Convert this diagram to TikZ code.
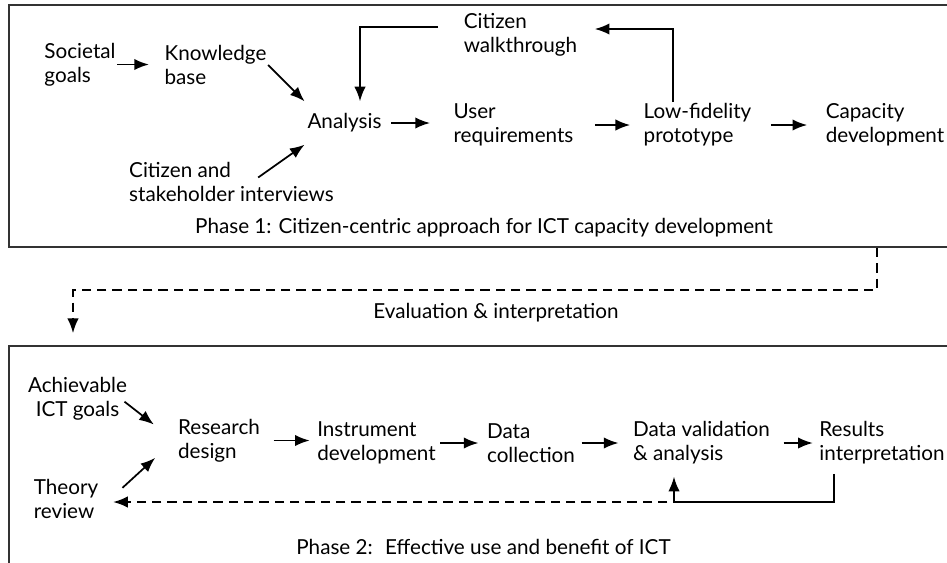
\documentclass[tikz,border=0pt]{standalone}
\usepackage{fontspec}
\setmainfont{Lato}
\usetikzlibrary{arrows.meta}

\begin{document}
\begin{tikzpicture}[x=0.75pt,y=-0.75pt,font=\fontsize{15.5}{18}\selectfont,
    arrow/.style={draw,line width=1.3pt,-{Latex[length=11pt,width=8.5pt]}},
    dasharrow/.style={arrow,dash pattern=on 7pt off 4.5pt},
    lbl/.style={align=left,inner sep=1pt},
    phasebox/.style={draw=black!80,line width=1.3pt,inner sep=0pt}]
    \clip (0,0) rectangle (947,562);

    % phase boxes
    \node[phasebox,minimum width=735.75pt,minimum height=181.5pt] (box1) at (499.5,126) {};
    \node[phasebox,minimum width=735.75pt,minimum height=205.5pt] (box2) at (499.5,483) {};

    % phase 1
    \node[lbl] (soc) at (80,64.5) {Societal\\goals};
    \node[lbl] (kb) at (215.5,65) {Knowledge\\base};
    \node[lbl,inner xsep=2pt,inner ysep=9pt] (ana) at (344.5,123) {Analysis};
    \node[lbl] (csi) at (231.5,181.5) {Citizen and\\stakeholder interviews};
    \node[lbl] (cw) at (520.5,34.5) {Citizen\\walkthrough};
    \node[lbl] (ur) at (513.5,125) {User\\requirements};
    \node[lbl] (lf) at (697.5,125) {Low-fidelity\\prototype};
    \node[lbl] (cap) at (885,125) {Capacity\\development};
    \node (ph1) at (484,228) {Phase 1: Citizen-centric approach for ICT capacity development};

    \node (eval) at (496,313) {Evaluation \& interpretation};

    % phase 2
    \node[lbl,align=center] (ach) at (77.5,399) {Achievable\\ICT goals};
    \node[lbl] (rd) at (219,440.5) {Research\\design};
    \node[lbl] (tr) at (66,498.5) {Theory\\review};
    \node[lbl] (id) at (376.5,443) {Instrument\\development};
    \node[lbl] (dc) at (531,443) {Data\\collection};
    \node[lbl] (dva) at (701.5,443) {Data validation\\\& analysis};
    \node[lbl] (ri) at (882,443) {Results\\interpretation};
    \node (ph2) at (483.5,547) {Phase 2:~ Effective use and benefit of ICT};

    % corners of the feedback lines
    \coordinate (W1) at (673,29);
    \coordinate (W2) at (360,27);
    \coordinate (E1) at (877,290);
    \coordinate (E2) at (73,290);
    \coordinate (L1) at (834,502);
    \coordinate (L2) at (674,502);

    % straight arrows
    \foreach \a/\b/\s/\t in {soc/kb/0pt/10.5pt,ana/ur/5pt/16.5pt,ur/lf/15pt/9pt,lf/cap/13.5pt/12.75pt,
        rd/id/9pt/4.5pt,id/dc/2.25pt/5.25pt,dc/dva/3.75pt/9.75pt,dva/ri/9pt/3.75pt}
    {
      \draw[arrow,shorten <=\s,shorten >=\t] (\a.east) -- (\a.east -| \b.west);
    }

    % inputs
    \draw[arrow] (kb.east) -- (ana.north west);
    \draw[arrow] ([xshift=20pt,yshift=3pt]csi.center) -- (ana.south west);
    \draw[arrow] ([xshift=-3pt,yshift=-2pt]ach.east) -- ([xshift=-17pt,yshift=12pt]rd.west);
    \draw[arrow] ([xshift=17pt,yshift=8pt]tr.east) -- ([xshift=-16pt,yshift=-13pt]rd.west);

    % loops
    \draw[arrow,shorten >=12pt] (lf.north -| W1) -- (W1) -- (cw.east |- W1);
    \draw[arrow,shorten <=18pt] (cw.west |- W2) -- (W2) -- (ana.north -| W2);
    \draw[arrow,shorten <=6pt,shorten >=8pt] (ri.south -| L1) -- (L1) -- (L2) -- (dva.south -| L2);
    \draw[dasharrow,shorten <=5pt,shorten >=10pt] (L2) -- (tr.east |- L2);
    \draw[dasharrow,shorten >=9pt] (box1.south -| E1) -- (E1) -- (E2) -- (box2.north -| E2);
\end{tikzpicture}
\end{document}
